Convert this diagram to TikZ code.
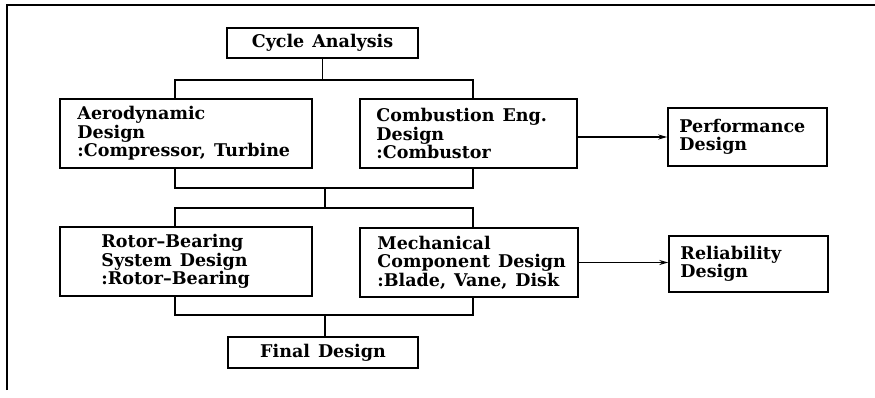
\documentclass[tikz,border=0pt]{standalone}
\usepackage{fontspec}
\setmainfont{DejaVu Serif}
\usetikzlibrary{arrows.meta}
\newcommand\wsp{\hspace{8pt}}
\begin{document}
\begin{tikzpicture}[x=1pt,y=-1pt,
  box/.style={draw,line width=1.5pt,rectangle,inner sep=0pt},
  txt/.style={anchor=west,align=left,inner sep=0pt,font=\fontsize{17.5}{18.5}\selectfont\bfseries},
  ctxt/.style={inner sep=0pt,font=\fontsize{17.5}{18.5}\selectfont\bfseries},
  conn/.style={line width=1.5pt},
  arr/.style={line width=1.4pt,-{Stealth[length=9pt,width=5pt]}}]
\useasboundingbox (0,0) rectangle (875,397);
% frame
\draw[line width=1.2pt] (7,390) -- (7,5) -- (875,5);
% boxes
\node[box,minimum width=191pt,minimum height=30pt] (ca) at (322.5,43) {};
\node[ctxt] (caT) at (ca.center) {Cycle\wsp Analysis};
\node[box,minimum width=252pt,minimum height=69pt] (aero) at (186,133.5) {};
\node[txt] (aeroT) at ([xshift=18pt]aero.west) {Aerodynamic\\Design\\:Compressor,\wsp Turbine};
\node[box,minimum width=217pt,minimum height=69pt] (comb) at (468.5,133.5) {};
\node[txt] (combT) at ([xshift=17pt]comb.west) {Combustion\wsp Eng.\\Design\\:Combustor};
\node[box,minimum width=159pt,minimum height=58pt] (perf) at (747.5,137) {};
\node[txt] (perfT) at ([xshift=12pt]perf.west) {Performance\\Design};
\node[box,minimum width=252pt,minimum height=69pt] (rotor) at (186,261.5) {};
\node[txt] (rotorT) at ([xshift=42pt]rotor.west) {Rotor--Bearing\\System\wsp Design\\:Rotor--Bearing};
\node[box,minimum width=218pt,minimum height=69pt] (mech) at (469,262.5) {};
\node[txt] (mechT) at ([xshift=18pt]mech.west) {Mechanical\\Component\wsp Design\\:Blade,\wsp Vane,\wsp Disk};
\node[box,minimum width=159pt,minimum height=56pt] (rel) at (748.5,264) {};
\node[txt] (relT) at ([xshift=12pt]rel.west) {Reliability\\Design};
\node[box,minimum width=190pt,minimum height=31pt] (fin) at (323,352.5) {};
\node[ctxt] (finT) at (fin.center) {Final\wsp Design};
% junction coordinates
\coordinate (t1) at (175,80);
\coordinate (t2) at (473,80);
\coordinate (b1) at (175,188);
\coordinate (b2) at (473,188);
\coordinate (m1) at (325,188);
\coordinate (c1) at (175,208);
\coordinate (c2) at (473,208);
\coordinate (m2) at (325,208);
\coordinate (d1) at (175,315);
\coordinate (d2) at (473,315);
\coordinate (m3) at (325,315);
% connectors
\draw[conn] (ca.south) -- (ca.south |- t1);
\draw[conn] (aero.north -| t1) -- (t1) -- (t2) -- (comb.north -| t2);
\draw[conn] (aero.south -| b1) -- (b1) -- (b2) -- (comb.south -| b2);
\draw[conn] (m1) -- (m2);
\draw[conn] (rotor.north -| c1) -- (c1) -- (c2) -- (mech.north -| c2);
\draw[conn] (rotor.south -| d1) -- (d1) -- (d2) -- (mech.south -| d2);
\draw[conn] (m3) -- (fin.north -| m3);
\draw[arr] (perf.west -| comb.east) -- (perf.west);
\draw[arr] (mech.east) -- (mech.east -| rel.west);
\end{tikzpicture}
\end{document}
